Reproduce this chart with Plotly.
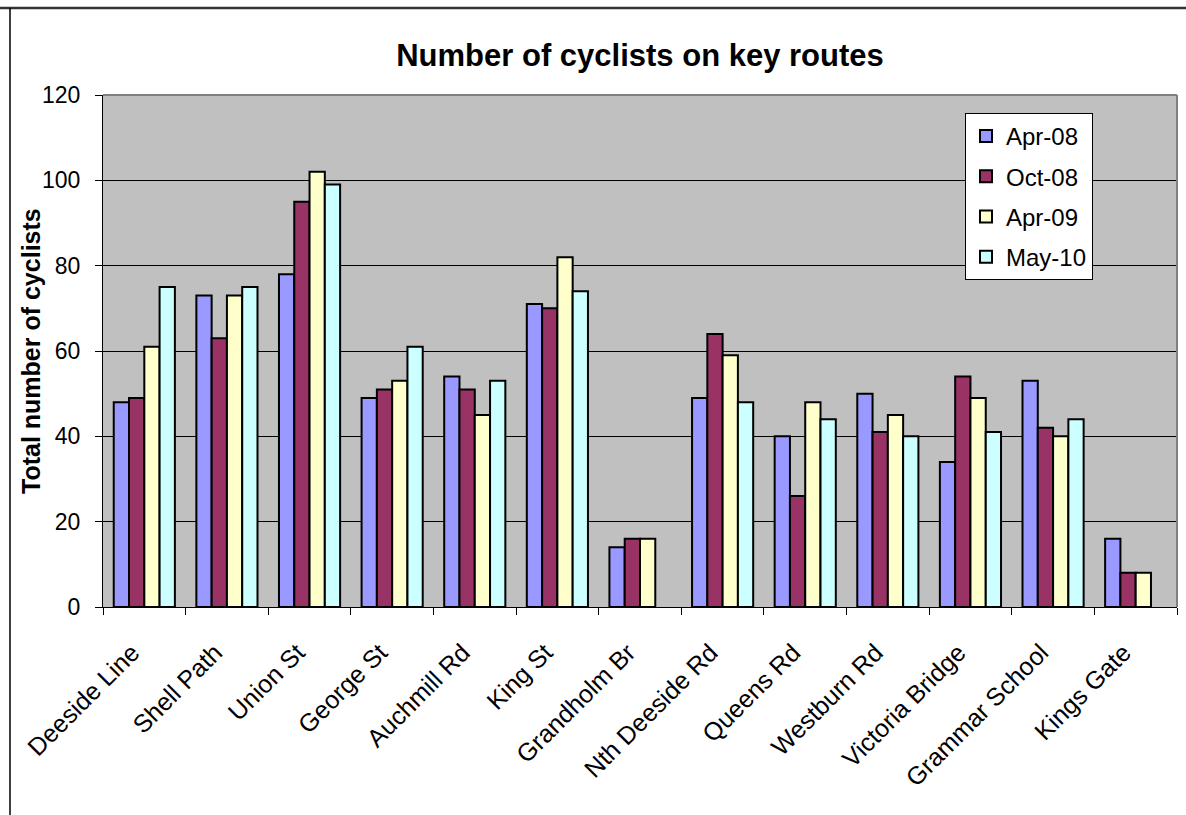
import plotly.graph_objects as go

#_______________________________________________________________________________
# Data

routes = [
    "Deeside Line", "Shell Path", "Union St", "George St", "Auchmill Rd",
    "King St", "Grandholm Br", "Nth Deeside Rd", "Queens Rd", "Westburn Rd",
    "Victoria Bridge", "Grammar School", "Kings Gate",
]

apr_08 = [48, 73, 78, 49, 54, 71, 14, 49, 40, 50, 34, 53, 16]
oct_08 = [49, 63, 95, 51, 51, 70, 16, 64, 26, 41, 54, 42, 8]
apr_09 = [61, 73, 102, 53, 45, 82, 16, 59, 48, 45, 49, 40, 8]
may_10 = [75, 75, 99, 61, 53, 74, None, 48, 44, 40, 41, 44, None]

y_ticks = [0, 20, 40, 60, 80, 100, 120]

#_______________________________________________________________________________
# Figure

series = [
    ("Apr-08", apr_08, "#9999FF"),
    ("Oct-08", oct_08, "#993366"),
    ("Apr-09", apr_09, "#FFFFCC"),
    ("May-10", may_10, "#CCFFFF"),
]

fig = go.Figure()
for name, values, colour in series:
    fig.add_trace(go.Bar(
        x=routes,
        y=values,
        name=name,
        legendgroup=name,
        marker=dict(color=colour, line=dict(color="black", width=2)),
    ))

# plot area in pixels: left 103, right 1177, top 95, bottom 607
W, H = 1186, 815
L, R, T, B = 103, 1177, 95, 607

def px_x(px):
    return (px - L) / (R - L)

def px_y(py):
    return (B - py) / (B - T)

shapes = [
    # chart frame (top and left edges visible)
    dict(type="line", xref="paper", yref="paper",
         x0=px_x(0), x1=px_x(1186), y0=px_y(8), y1=px_y(8),
         line=dict(color="#333333", width=2.5)),
    dict(type="line", xref="paper", yref="paper",
         x0=px_x(10), x1=px_x(10), y0=px_y(8), y1=px_y(815),
         line=dict(color="black", width=1.5)),
    # plot area shadow on top and right
    dict(type="line", xref="paper", yref="paper",
         x0=0, x1=1, y0=1, y1=1,
         line=dict(color="#808080", width=2)),
    dict(type="line", xref="paper", yref="paper",
         x0=1, x1=1, y0=0, y1=1,
         line=dict(color="#808080", width=2)),
]

fig.update_layout(
    width=W,
    height=H,
    barmode="group",
    bargap=0.26,
    bargroupgap=0,
    plot_bgcolor="#C0C0C0",
    paper_bgcolor="white",
    font=dict(family="Liberation Sans, Arial", color="black", size=23),
    title=dict(
        text="<b>Number of cyclists on key routes</b>",
        x=0.5, xref="paper", xanchor="center",
        y=1 - 55 / H, yanchor="middle",
        font=dict(size=31),
    ),
    margin=dict(l=L, r=W - R, t=T, b=H - B, pad=0),
    legend=dict(
        x=px_x(965), y=px_y(113), xanchor="left", yanchor="top",
        bgcolor="white", bordercolor="black", borderwidth=1,
        font=dict(size=24),
        tracegroupgap=6,
        itemwidth=30,
    ),
    shapes=shapes,
    # y axis title placed by hand so it sits where the original has it
    annotations=[dict(
        text="<b>Total number of cyclists</b>",
        xref="paper", yref="paper",
        x=px_x(31), y=px_y(351),
        xanchor="center", yanchor="middle",
        textangle=-90, showarrow=False,
        font=dict(size=25),
    )],
)

fig.update_xaxes(
    tickangle=-45,
    ticks="outside",
    tickson="boundaries",
    ticklen=7,
    tickcolor="black",
    showline=True,
    linecolor="black",
    linewidth=1,
    tickfont=dict(size=25),
    ticklabelstandoff=20,
    ticklabelshift=-12,
)

fig.update_yaxes(
    range=[0, 120],
    tickvals=y_ticks,
    ticks="outside",
    ticklen=7,
    tickcolor="black",
    showline=True,
    linecolor="black",
    linewidth=1,
    showgrid=True,
    gridcolor="black",
    gridwidth=1,
    zeroline=False,
    tickfont=dict(size=23),
    ticklabelstandoff=10,
)

# drop the default page margin so the figure sits at the window's corner
fig.write_html(
    "out.html",
    config={"displayModeBar": False},
    post_script="document.body.style.margin='0';",
)
